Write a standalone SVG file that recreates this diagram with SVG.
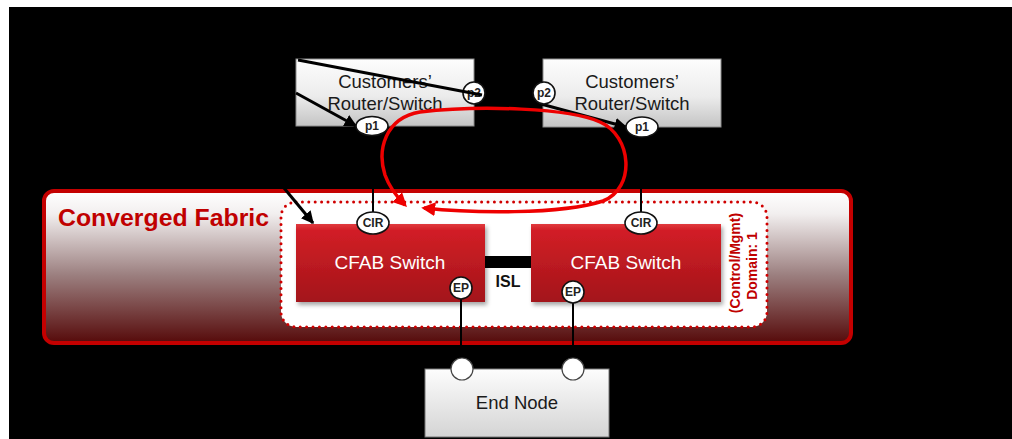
<svg xmlns="http://www.w3.org/2000/svg" width="1012" height="439" viewBox="0 0 1012 439">
  <defs>
    <linearGradient id="custGrad" x1="0" y1="0" x2="0" y2="1">
      <stop offset="0" stop-color="#fdfdfd"/>
      <stop offset="0.55" stop-color="#ececec"/>
      <stop offset="1" stop-color="#c4c4c4"/>
    </linearGradient>
    <linearGradient id="endGrad" x1="0" y1="0" x2="0" y2="1">
      <stop offset="0" stop-color="#fdfdfd"/>
      <stop offset="1" stop-color="#d4d4d4"/>
    </linearGradient>
    <linearGradient id="fabricGrad" x1="0" y1="0" x2="0" y2="1">
      <stop offset="0" stop-color="#ffffff"/>
      <stop offset="0.15" stop-color="#f2efef"/>
      <stop offset="0.55" stop-color="#9c8080"/>
      <stop offset="1" stop-color="#560a0a"/>
    </linearGradient>
    <linearGradient id="switchGrad" x1="0" y1="0" x2="0" y2="1">
      <stop offset="0" stop-color="#e03a3e"/>
      <stop offset="0.08" stop-color="#d21f26"/>
      <stop offset="1" stop-color="#a3141a"/>
    </linearGradient>
    <filter id="shadow" x="-10%" y="-10%" width="125%" height="130%">
      <feDropShadow dx="2" dy="3" stdDeviation="2" flood-color="#000" flood-opacity="0.35"/>
    </filter>
    <marker id="arrowBlack" viewBox="0 0 10 10" refX="9" refY="5" markerWidth="4.2" markerHeight="4.2" orient="auto" markerUnits="strokeWidth">
      <path d="M0,0 L10,5 L0,10 Z" fill="#000"/>
    </marker>
    <marker id="arrowRed" viewBox="0 0 10 10" refX="8" refY="5" markerWidth="4" markerHeight="4" orient="auto-start-reverse" markerUnits="strokeWidth">
      <path d="M0,0 L10,5 L0,10 Z" fill="#ee0000"/>
    </marker>
    <style>
      .cust { fill: url(#custGrad); stroke: #8c8c8c; stroke-width: 1; }
      .custText { font-family: "Liberation Sans", Arial, sans-serif; font-size: 18.5px; fill: #1a1a1a; text-anchor: middle; }
      .switch { fill: url(#switchGrad); filter: url(#shadow); }
      .switchText { font-family: "Liberation Sans", Arial, sans-serif; font-size: 19px; fill: #ffffff; text-anchor: middle; }
      .port { fill: #ffffff; stroke: #111; stroke-width: 1.6; }
      .portText { font-family: "Liberation Sans", Arial, sans-serif; font-size: 12px; font-weight: bold; fill: #222; text-anchor: middle; }
      .link { stroke: #000; stroke-width: 3; fill: none; }
      .thin { stroke: #000; stroke-width: 2; fill: none; }
      .endPort { fill: #ffffff; stroke: #444; stroke-width: 1.2; }
      .domainText { font-family: "Liberation Sans", Arial, sans-serif; font-size: 14px; font-weight: bold; fill: #c00000; text-anchor: middle; }
    </style>
  </defs>

  <!-- canvas -->
  <rect x="0" y="0" width="1012" height="439" fill="#ffffff"/>
  <rect x="9" y="7" width="1003" height="432" fill="#000000"/>

  <!-- fabric container -->
  <g id="converged-fabric">
    <rect x="44" y="191" width="807" height="152" rx="10" fill="url(#fabricGrad)" stroke="#c40000" stroke-width="4"/>
    <text x="58" y="226" font-family="Liberation Sans, Arial, sans-serif" font-size="23" font-weight="bold" fill="#c00000" textLength="211" lengthAdjust="spacingAndGlyphs">Converged Fabric</text>
  </g>

  <!-- control/management domain -->
  <g id="domain">
    <rect x="281" y="202" width="486" height="125" rx="15" fill="#ffffff" stroke="#d00000" stroke-width="3" stroke-dasharray="0 6.4" stroke-linecap="round"/>
    <text class="domainText" transform="translate(740 263) rotate(-90)">(Control/Mgmt)</text>
    <text class="domainText" transform="translate(757 266) rotate(-90)">Domain: 1</text>
  </g>

  <!-- customer equipment -->
  <g id="customer-left">
    <rect class="cust" x="296" y="59" width="178" height="67"/>
    <text class="custText" x="385" y="88">Customers’</text>
    <text class="custText" x="385" y="110">Router/Switch</text>
  </g>
  <g id="customer-right">
    <rect class="cust" x="543" y="59" width="178" height="68"/>
    <text class="custText" x="632" y="88">Customers’</text>
    <text class="custText" x="632" y="110">Router/Switch</text>
  </g>

  <!-- fabric switches -->
  <g id="cfab-left">
    <rect class="switch" x="296" y="224" width="189" height="78"/>
    <text class="switchText" x="390" y="269">CFAB Switch</text>
  </g>
  <g id="cfab-right">
    <rect class="switch" x="531" y="224" width="190" height="78"/>
    <text class="switchText" x="626" y="269">CFAB Switch</text>
  </g>

  <!-- end node -->
  <g id="end-node">
    <rect x="425" y="369" width="184" height="68" fill="url(#endGrad)" stroke="#777" stroke-width="1"/>
    <text class="custText" x="517" y="409">End Node</text>
  </g>

  <!-- connectors -->
  <g id="connectors">
    <!-- inter-switch link -->
    <rect x="485" y="256" width="46" height="12" fill="#000"/>
    <text x="508" y="287" font-family="Liberation Sans, Arial, sans-serif" font-size="16" font-weight="bold" fill="#111" text-anchor="middle">ISL</text>

    <!-- uplinks from switch CIR ports -->
    <line class="thin" x1="373" y1="135" x2="373" y2="212"/>
    <line class="thin" x1="641" y1="137" x2="641" y2="212"/>

    <!-- end node attachments -->
    <line class="thin" x1="461" y1="299" x2="461" y2="360"/>
    <line class="thin" x1="573" y1="303" x2="573" y2="360"/>

    <!-- black pointer arrows -->
    <line class="link" x1="296" y1="93" x2="356" y2="126" marker-end="url(#arrowBlack)"/>
    <line class="link" x1="541" y1="104" x2="626" y2="127" marker-end="url(#arrowBlack)"/>
    <line class="link" x1="284" y1="188" x2="313" y2="223" marker-end="url(#arrowBlack)"/>

    <!-- control loop -->
    <path d="M 424,208 C 470,213 560,215 603,201 C 636,188 632,136 600,122 C 570,108 480,105 420,112 C 385,118 377,150 385,175 C 390,189 397,197 405,205" fill="none" stroke="#ee0000" stroke-width="3.5" marker-start="url(#arrowRed)" marker-end="url(#arrowRed)"/>
  </g>

  <!-- ports -->
  <g id="ports">
    <ellipse class="port" cx="372" cy="126" rx="16" ry="9.5"/>
    <text class="portText" x="372" y="130">p1</text>
    <circle class="port" cx="474" cy="93" r="11"/>
    <text class="portText" x="474" y="97">p2</text>
    <circle class="port" cx="544" cy="93" r="11"/>
    <text class="portText" x="544" y="97">p2</text>
    <ellipse class="port" cx="642" cy="127" rx="16" ry="10"/>
    <text class="portText" x="642" y="131">p1</text>

    <ellipse class="port" cx="373" cy="223" rx="16" ry="11"/>
    <text class="portText" x="373" y="227">CIR</text>
    <ellipse class="port" cx="641" cy="223" rx="16" ry="11"/>
    <text class="portText" x="641" y="227">CIR</text>

    <circle class="port" cx="461" cy="288" r="11"/>
    <text class="portText" x="461" y="292">EP</text>
    <circle class="port" cx="573" cy="292" r="11"/>
    <text class="portText" x="573" y="296">EP</text>

    <circle class="endPort" cx="462" cy="369" r="11"/>
    <circle class="endPort" cx="573" cy="369" r="11"/>
  </g>

  <!-- pointer line drawn across the upper port -->
  <g id="connector-overlay">
    <line class="link" x1="298" y1="60" x2="482" y2="95"/>
  </g>
</svg>
